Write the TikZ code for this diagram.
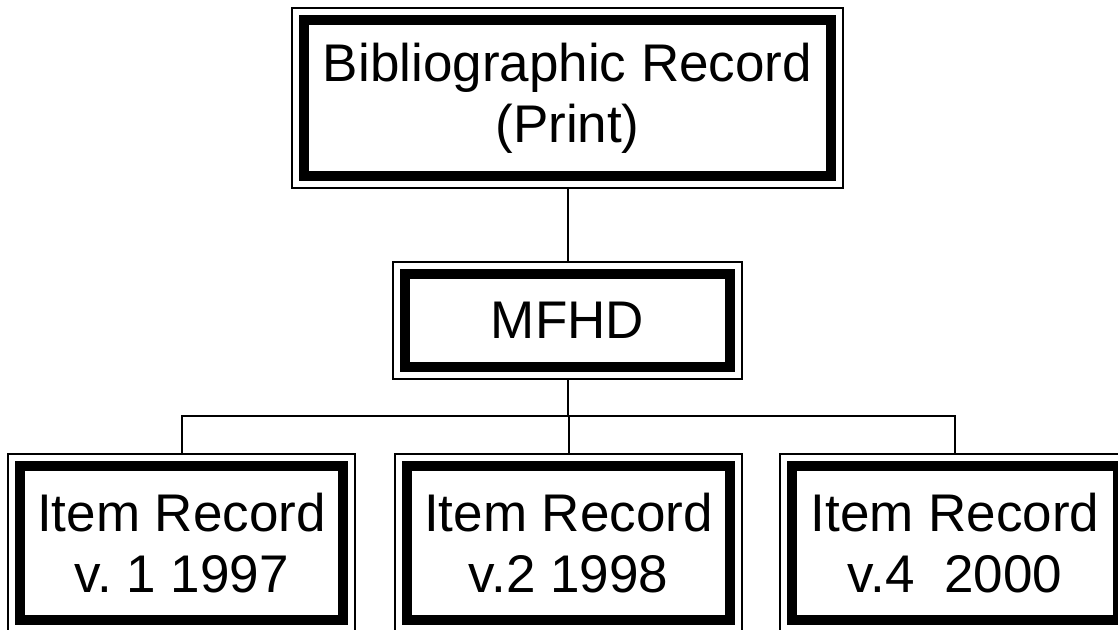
\documentclass[tikz,border=0pt]{standalone}
\usepackage{fontspec}
\setmainfont{Liberation Sans}
\usetikzlibrary{calc}
\frenchspacing

\tikzset{
	recbox/.style={draw, line width=2pt, fill=white, inner sep=0pt, align=center,
		font=\fontsize{53}{61}\selectfont,
		path picture={\draw[line width=10pt]
			([shift={(12pt,-12pt)}]path picture bounding box.north west) rectangle
			([shift={(-12pt,12pt)}]path picture bounding box.south east);}},
	link/.style={line width=2pt}
}

\begin{document}
\begin{tikzpicture}[x=1pt, y=-1pt]
				\useasboundingbox (0, 0) rectangle (1118, 629);
				\clip (0, 0) rectangle (1118, 629);
				
				\node[recbox, minimum width=551pt, minimum height=180pt] (bib) at (567.5, 98) {Bibliographic Record\\(Print)};
				\node[recbox, minimum width=349pt, minimum height=117pt] (mfhd) at (567.5, 320.5) {MFHD};
				\node[recbox, minimum width=347pt, minimum height=178pt] (item1) at (181.5, 543) {Item Record\\v. 1 1997};
				\node[recbox, minimum width=347pt, minimum height=178pt] (item2) at (568.5, 543) {Item Record\\v.2 1998};
				\node[recbox, minimum width=350pt, minimum height=178pt] (item4) at (955, 543) {Item Record\\v.4\ \ 2000};
				
				\coordinate (bus) at (567.5, 416);
				
				\draw[link] (bib) -- (mfhd);
				\draw[link] (mfhd) -- (bus);
				\foreach \n in {item1, item2, item4}
					\draw[link] (bus) -| (\n.north);
			\end{tikzpicture}
\end{document}
